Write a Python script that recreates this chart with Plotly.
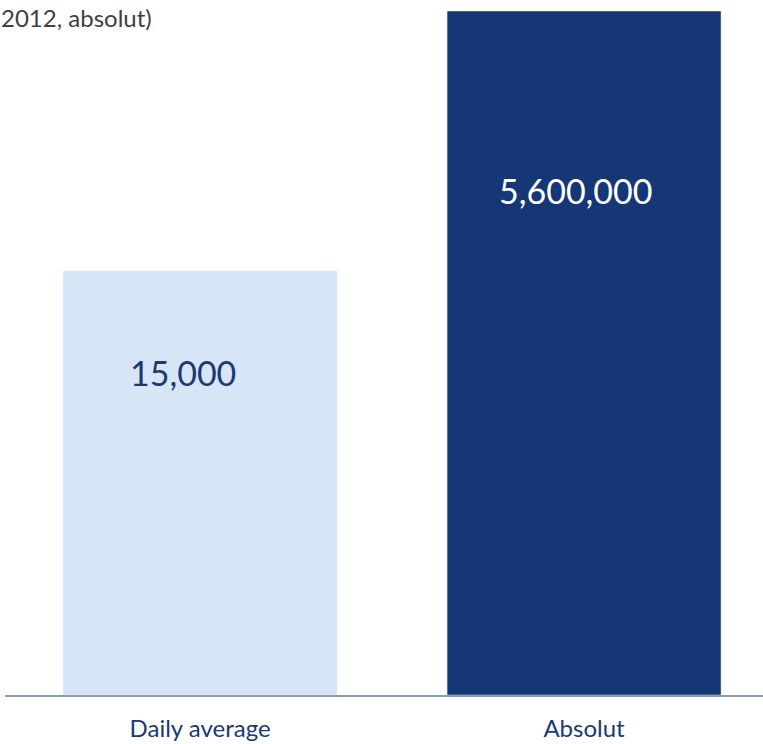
import plotly.graph_objects as go

categories = ["Daily average", "Absolut"]
values = [15000, 5600000]
value_labels = ["15,000", "5,600,000"]
bar_colors = ["#D6E6F7", "#163775"]
text_colors = ["#1C3A72", "#FFFFFF"]
title_text = "2012, absolut)"

W, H = 763, 744
plot_top, plot_bottom = 11, 695
# visual bar heights (px) in the reference image
bar1_px = 695 - 271
bar2_px = 695 - 11
plot_h = plot_bottom - plot_top

fig = go.Figure()
fig.add_trace(go.Bar(x=[categories[0]], y=[values[0]], marker_color=bar_colors[0],
                     width=0.7135, yaxis="y", showlegend=False, hoverinfo="skip"))
fig.add_trace(go.Bar(x=[categories[1]], y=[values[1]], marker_color=bar_colors[1],
                     width=0.7135, yaxis="y2", showlegend=False, hoverinfo="skip"))

font = "Lato"
fig.add_annotation(x=categories[0], y=values[0] * 0.76, xref="x", yref="y",
                   text=value_labels[0], showarrow=False, xshift=-17,
                   font=dict(family=font, size=34, color=text_colors[0]))
fig.add_annotation(x=categories[1], y=values[1] * 0.738, xref="x", yref="y2",
                   text=value_labels[1], showarrow=False, xshift=-9,
                   font=dict(family=font, size=34, color=text_colors[1]))
fig.add_annotation(x=(153 - 5) / (W - 5), y=(plot_bottom - 17) / plot_h,
                   xref="paper", yref="paper", xanchor="right", yanchor="middle",
                   text=title_text, showarrow=False, borderpad=0,
                   font=dict(family=font, size=24, color="#404040"))

fig.update_layout(
    width=W, height=H,
    margin=dict(l=5, r=0, t=plot_top, b=H - plot_bottom),
    plot_bgcolor="white", paper_bgcolor="white",
    xaxis=dict(range=[-0.508, 1.466], showline=True, linecolor="#8C9DB9", linewidth=2,
               showgrid=False, zeroline=False, ticks="", ticklabelstandoff=11,
               tickfont=dict(family=font, size=24, color="#1C3A72")),
    yaxis=dict(range=[0, values[0] * plot_h / bar1_px], visible=False, showgrid=False),
    yaxis2=dict(range=[0, values[1] * plot_h / bar2_px], visible=False, showgrid=False,
                overlaying="y"),
)
fig.write_html("out.html")
